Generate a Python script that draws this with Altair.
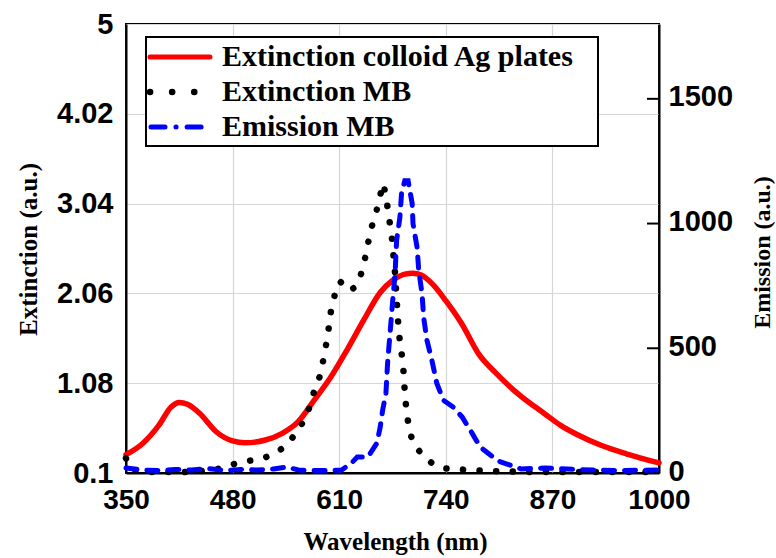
import altair as alt
import pandas as pd

# ---- data ----
ag_wl = [350, 370, 390, 405, 415, 425, 440, 460, 480, 495, 520, 540, 560, 580, 600, 620, 640, 660,
         675, 690, 700, 710, 725, 740, 760, 780, 800, 830, 860, 880, 900, 930, 960, 1000]
ag_ext = [0.30, 0.42, 0.62, 0.82, 0.87, 0.85, 0.75, 0.55, 0.45, 0.43, 0.46, 0.53, 0.66, 0.90, 1.15,
          1.45, 1.77, 2.07, 2.20, 2.27, 2.28, 2.26, 2.15, 1.98, 1.72, 1.40, 1.20, 0.95, 0.75, 0.62,
          0.52, 0.40, 0.31, 0.21]

mb_wl = [350, 356, 365, 380, 400, 420, 440, 460, 475, 490, 505, 520, 535, 546, 558, 566, 574, 580,
         587, 592, 596, 600, 605, 611, 616, 622, 628, 634, 640, 644, 648, 655, 659, 664, 668, 671,
         674, 676, 678, 680, 682, 684, 687, 689, 690, 692, 695, 700, 711, 724, 739, 757, 770, 800,
         850, 900, 950, 1000]
mb_ext = [0.26, 0.14, 0.12, 0.11, 0.11, 0.11, 0.12, 0.14, 0.18, 0.22, 0.24, 0.27, 0.33, 0.41, 0.54,
          0.66, 0.82, 1.01, 1.17, 1.40, 1.60, 1.87, 2.06, 2.19, 2.15, 2.09, 2.12, 2.19, 2.38, 2.55,
          2.74, 2.94, 3.10, 3.26, 3.06, 2.87, 2.69, 2.49, 2.29, 2.00, 1.73, 1.53, 1.35, 1.15, 0.97,
          0.79, 0.59, 0.43, 0.30, 0.20, 0.15, 0.14, 0.13, 0.12, 0.11, 0.11, 0.11, 0.11]

em_wl = [350, 370, 390, 410, 430, 450, 470, 490, 510, 530, 546, 560, 580, 600, 613, 625, 632, 645,
         656, 660, 663, 667, 669, 672, 674, 676, 678, 680, 684, 686, 690, 694, 699, 700, 705, 707,
         711, 713, 717, 723, 729, 737, 749, 760, 772, 782, 804, 832, 860, 900, 950, 1000]
em_val = [20, 12, 10, 14, 12, 18, 10, 14, 12, 16, 24, 12, 10, 10, 12, 40, 64, 64, 120, 184, 252,
          320, 440, 560, 640, 720, 792, 932, 1024, 1120, 1172, 1172, 1080, 1000, 904, 812, 720,
          624, 532, 452, 360, 292, 264, 224, 160, 104, 48, 16, 20, 14, 10, 12]

series_names = ["Extinction colloid Ag plates", "Extinction MB", "Emission MB"]
x_ticks = [350, 480, 610, 740, 870, 1000]
left_ticks = [0.1, 1.08, 2.06, 3.04, 4.02, 5]
right_ticks = [0, 500, 1000, 1500]
right_inner_ticks = [500, 1000, 1500]

W, H = 533, 449
NUM_FONT = "Liberation Sans"
TXT_FONT = "Liberation Serif"

ag_df = pd.DataFrame({"wl": ag_wl, "v": ag_ext})
mb_df = pd.DataFrame({"wl": mb_wl, "v": mb_ext})
em_df = pd.DataFrame({"wl": em_wl, "v": em_val})
tick_df = pd.DataFrame({"v": right_inner_ticks})

x_enc = alt.X("wl:Q", scale=alt.Scale(domain=[350, 1000], nice=False, zero=False),
              axis=alt.Axis(values=x_ticks, format="d", title="Wavelength (nm)", tickSize=0,
                            labelPadding=13, labelFlush=False, labelOverlap=False,
                            labelFont=NUM_FONT, labelFontSize=28,
                            labelFontWeight="bold", labelColor="black", grid=True,
                            gridColor="#d6d6d6", gridWidth=1.2, domainColor="black",
                            domainWidth=2, titleFont=TXT_FONT, titleFontSize=25,
                            titleFontWeight="bold", titleColor="black", titleX=269, titleY=68,
                            titleBaseline="middle"))

y_left = alt.Y("v:Q", scale=alt.Scale(domain=[0.1, 5], nice=False, zero=False),
               axis=alt.Axis(orient="left", values=left_ticks, format=".2~f", tickSize=0,
                             labelPadding=13, labelFlush=False, labelOverlap=False,
                             labelFont=NUM_FONT, labelFontSize=29,
                             labelFontWeight="bold", labelColor="black", grid=True,
                             gridColor="#d6d6d6", gridWidth=1.2, domainColor="black",
                             domainWidth=2, title="Extinction (a.u.)", titleFont=TXT_FONT,
                             titleFontSize=25, titleFontWeight="bold", titleColor="black",
                             titleAngle=270, titleX=-98, titleY=225, titleBaseline="middle"))

red = alt.Chart(ag_df).mark_line(color="#ff0000", strokeWidth=5.5, strokeCap="round",
                                 strokeJoin="round", interpolate="monotone").encode(x=x_enc, y=y_left)
black = alt.Chart(mb_df).mark_line(color="black", strokeWidth=6.5, strokeCap="round",
                                   strokeDash=[0.1, 16.5]).encode(x=x_enc, y=y_left)
left_layer = alt.layer(red, black)

right_scale = alt.Scale(domain=[0, 1800], nice=False, zero=False)
y_right = alt.Y("v:Q", scale=right_scale,
                axis=alt.Axis(orient="right", values=right_ticks, format="d", tickSize=0,
                              labelPadding=9, labelFlush=False, labelOverlap=False,
                              labelOffset=-2,
                              labelFont=NUM_FONT, labelFontSize=29, labelFontWeight="bold",
                              labelColor="black", grid=False, domainColor="black", domainWidth=2,
                              title="Emission (a.u.)", titleFont=TXT_FONT, titleFontSize=24,
                              titleFontWeight="bold", titleColor="black", titleAngle=270,
                              titleX=103, titleY=228, titleBaseline="middle"))

blue = alt.Chart(em_df).mark_line(color="#0000ff", strokeWidth=5, strokeCap="round",
                                  strokeDash=[11, 10]).encode(x=x_enc, y=y_right)
inner_ticks = alt.Chart(tick_df).mark_rule(color="black", strokeWidth=2).encode(
    y=y_right, x=alt.value(W - 12), x2=alt.value(W))
right_layer = alt.layer(blue, inner_ticks)

# ---- legend ----
one = alt.Data(values=[{"a": 1}])
box = alt.Chart(one).mark_rect(fill="white", stroke="black", strokeWidth=2).encode(
    x=alt.value(20), x2=alt.value(472), y=alt.value(13), y2=alt.value(122))
row_y = [33, 68, 103]
sym_red = alt.Chart(one).mark_rule(color="#ff0000", strokeWidth=5, strokeCap="round").encode(
    x=alt.value(24), x2=alt.value(84), y=alt.value(row_y[0]))
sym_black = alt.Chart(one).mark_rule(color="black", strokeWidth=6.5, strokeCap="round",
                                     strokeDash=[0.1, 22]).encode(
    x=alt.value(24), x2=alt.value(84), y=alt.value(row_y[1]))
sym_blue = alt.Chart(one).mark_rule(color="#0000ff", strokeWidth=5, strokeCap="round",
                                    strokeDash=[14, 11, 0.1, 11]).encode(
    x=alt.value(25), x2=alt.value(84), y=alt.value(row_y[2]))
texts = [
    alt.Chart(one).mark_text(text=name, align="left", baseline="middle", font=TXT_FONT,
                             fontSize=30, fontWeight="bold", color="black").encode(
        x=alt.value(96), y=alt.value(yy))
    for name, yy in zip(series_names, row_y)
]

chart = alt.layer(left_layer, right_layer, box, sym_red, sym_black, sym_blue, *texts).resolve_scale(
    y="independent"
).properties(
    width=W, height=H,
    autosize=alt.AutoSizeParams(type="none"),
    padding={"left": 126, "top": 24, "right": 117, "bottom": 85},
    background="white",
).configure_view(stroke="black", strokeWidth=2)

chart.save("out.html", embed_options={"renderer": "svg", "actions": False})
